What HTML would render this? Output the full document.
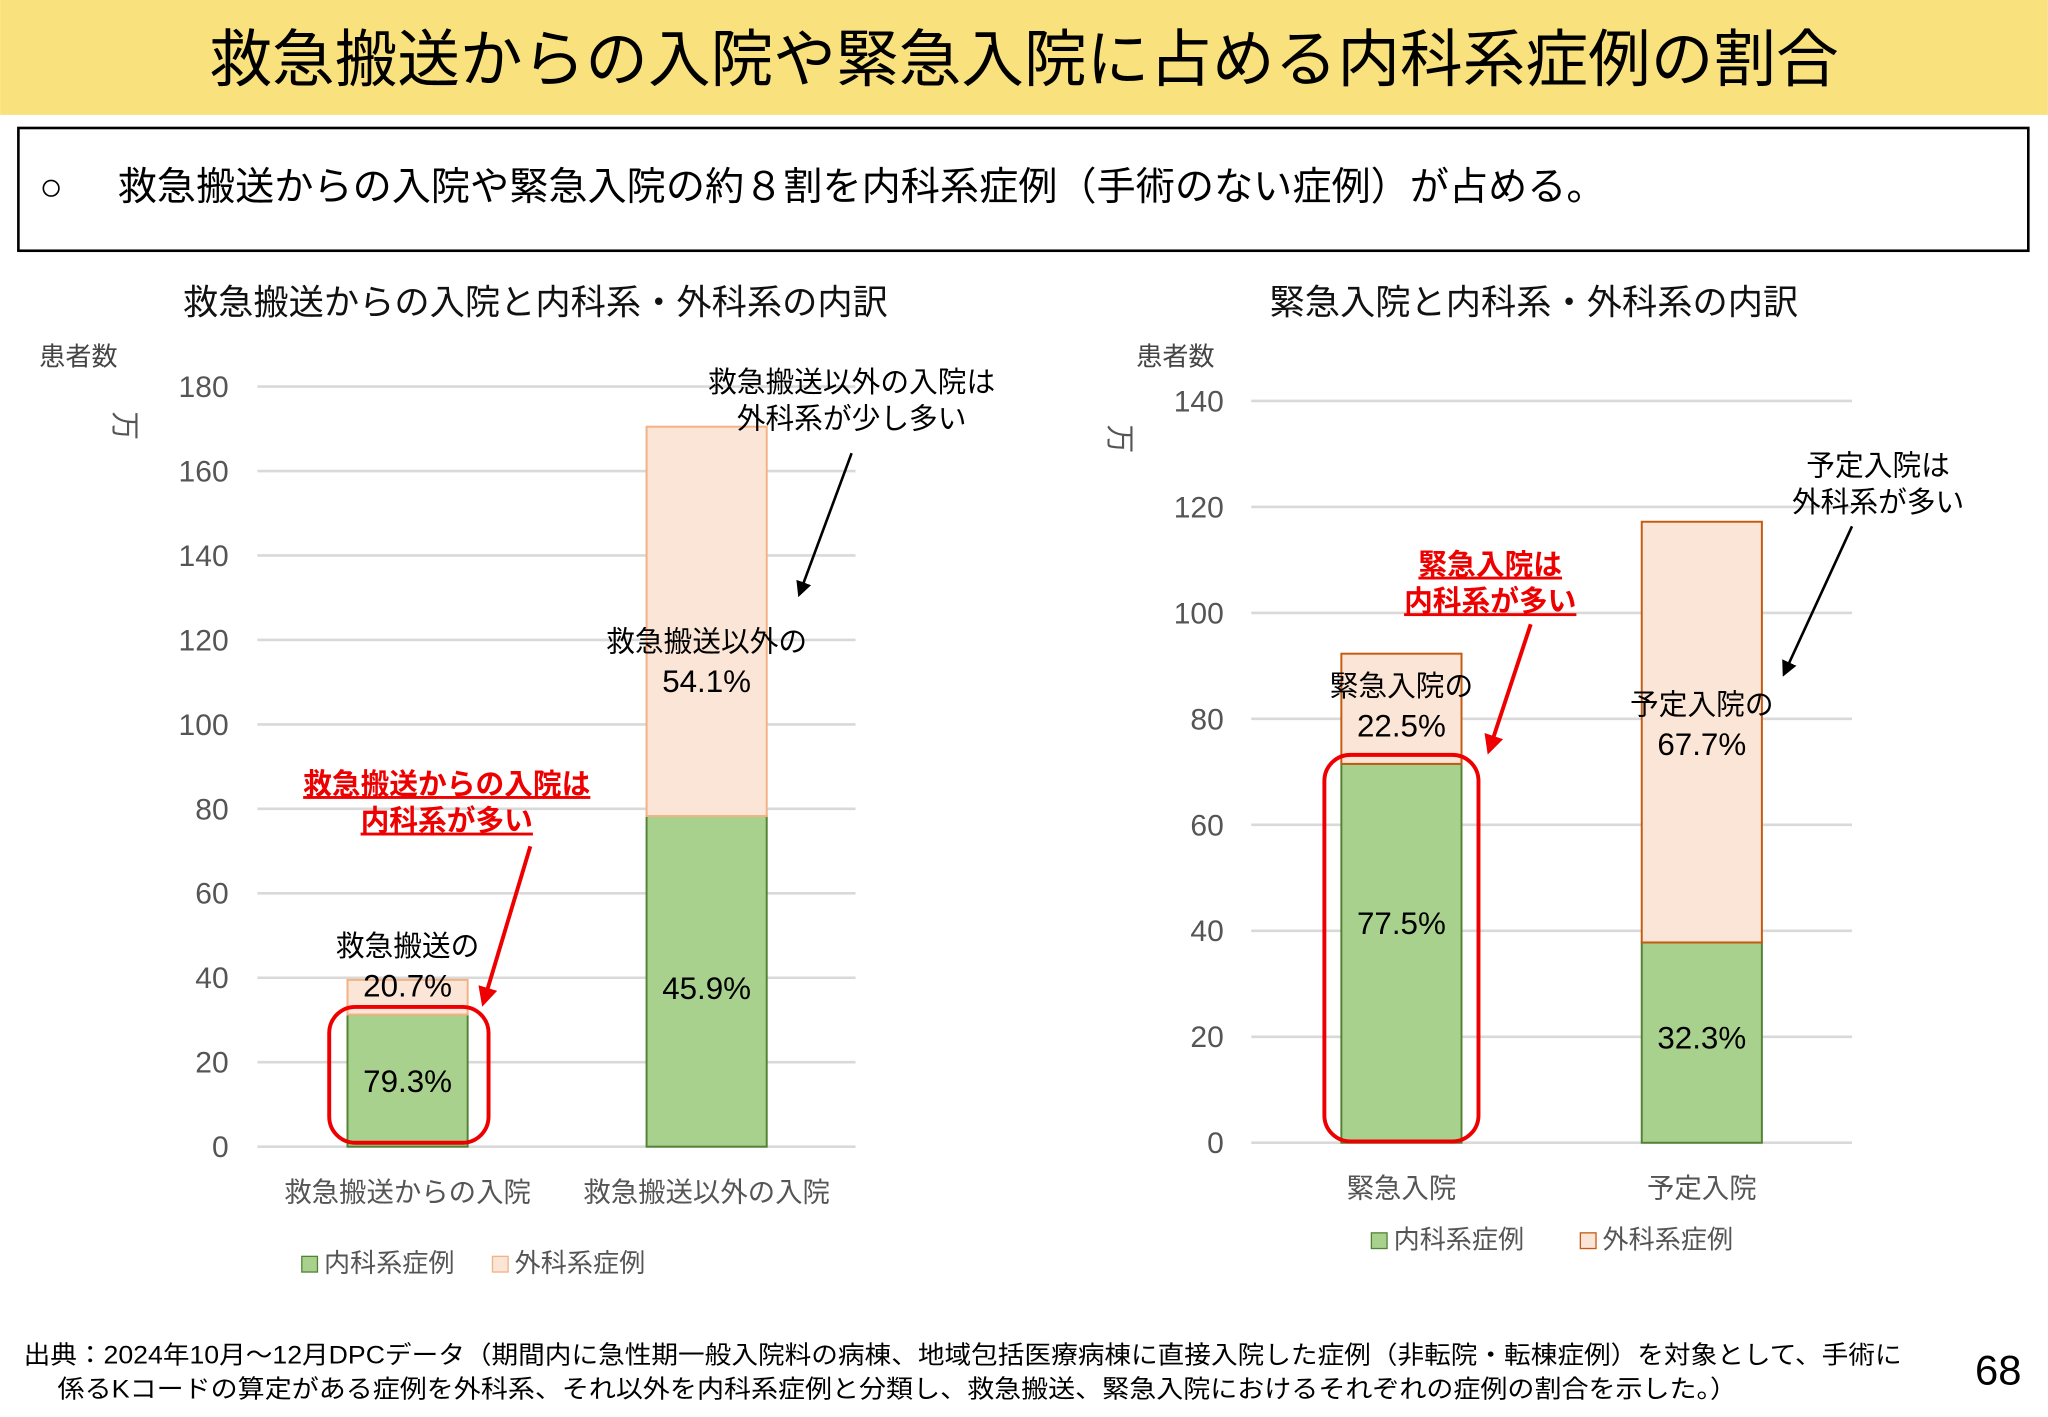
<!DOCTYPE html>
<html><head><meta charset="utf-8"><style>
html,body{margin:0;padding:0;background:#fff;}
svg{display:block;font-family:"Liberation Sans","Noto Sans CJK JP",sans-serif;}
</style></head><body>
<svg id="root" width="2048" height="1417" viewBox="0 0 1568 1085" xmlns="http://www.w3.org/2000/svg">
<defs>
<marker id="ah" viewBox="0 0 10 10" refX="8" refY="5" markerWidth="6" markerHeight="6" orient="auto"><path d="M0,0L10,5L0,10z" fill="#000"/></marker>
<marker id="ahr" viewBox="0 0 10 10" refX="8" refY="5" markerWidth="5" markerHeight="5" orient="auto"><path d="M0,0L10,5L0,10z" fill="#e00"/></marker>
</defs>
<rect x="0" y="0" width="1568" height="88" fill="#f9e27d"/>
<text x="784" y="62" font-size="48" text-anchor="middle" fill="#000">救急搬送からの入院や緊急入院に占める内科系症例の割合</text>
<rect x="14" y="98" width="1539" height="94" fill="#fff" stroke="#000" stroke-width="2"/>
<text x="30" y="153" font-size="30" fill="#000">○</text>
<text x="90" y="153" font-size="30" fill="#000">救急搬送からの入院や緊急入院の約８割を内科系症例（手術のない症例）が占める。</text>

<text x="140" y="241" font-size="27" fill="#111">救急搬送からの入院と内科系・外科系の内訳</text>
<text x="972" y="241" font-size="27" fill="#111">緊急入院と内科系・外科系の内訳</text>
<text x="30" y="280" font-size="20" fill="#444">患者数</text>
<text x="870" y="280" font-size="20" fill="#444">患者数</text>
<text transform="translate(88,315) rotate(90)" font-size="22" fill="#555">万</text>
<text transform="translate(850,325) rotate(90)" font-size="22" fill="#555">万</text>
<g id="charts"></g>

<text x="652" y="300" font-size="22" text-anchor="middle" fill="#000">救急搬送以外の入院は</text>
<text x="652" y="328" font-size="22" text-anchor="middle" fill="#000">外科系が少し多い</text>
<line x1="652" y1="347" x2="612" y2="455" stroke="#000" stroke-width="2" marker-end="url(#ah)"/>
<text x="1438" y="364" font-size="22" text-anchor="middle" fill="#000">予定入院は</text>
<text x="1438" y="392" font-size="22" text-anchor="middle" fill="#000">外科系が多い</text>
<line x1="1418" y1="403" x2="1366" y2="516" stroke="#000" stroke-width="2" marker-end="url(#ah)"/>
<text x="342" y="608" font-size="22" font-weight="bold" text-anchor="middle" fill="#e00" text-decoration="underline">救急搬送からの入院は</text>
<text x="342" y="636" font-size="22" font-weight="bold" text-anchor="middle" fill="#e00" text-decoration="underline">内科系が多い</text>
<line x1="406" y1="648" x2="370" y2="768" stroke="#e00" stroke-width="3" marker-end="url(#ahr)"/>
<text x="1141" y="440" font-size="22" font-weight="bold" text-anchor="middle" fill="#e00" text-decoration="underline">緊急入院は</text>
<text x="1141" y="468" font-size="22" font-weight="bold" text-anchor="middle" fill="#e00" text-decoration="underline">内科系が多い</text>
<line x1="1172" y1="478" x2="1140" y2="575" stroke="#e00" stroke-width="3" marker-end="url(#ahr)"/>
<rect x="252" y="771" width="122" height="104" rx="20" fill="none" stroke="#e00" stroke-width="3"/>
<rect x="1014" y="578" width="118" height="296" rx="20" fill="none" stroke="#e00" stroke-width="3"/>

<rect x="231" y="962" width="12" height="12" fill="#a9d18e" stroke="#548235"/>
<text x="248" y="974" font-size="20" fill="#555">内科系症例</text>
<rect x="377" y="962" width="12" height="12" fill="#fbe5d6" stroke="#f4b183"/>
<text x="394" y="974" font-size="20" fill="#555">外科系症例</text>
<rect x="1050" y="944" width="12" height="12" fill="#a9d18e" stroke="#548235"/>
<text x="1067" y="956" font-size="20" fill="#555">内科系症例</text>
<rect x="1210" y="944" width="12" height="12" fill="#fbe5d6" stroke="#c55a11"/>
<text x="1227" y="956" font-size="20" fill="#555">外科系症例</text>

<text x="18" y="1044" font-size="19" fill="#000" textLength="1438" lengthAdjust="spacingAndGlyphs">出典：2024年10月～12月DPCデータ（期間内に急性期一般入院料の病棟、地域包括医療病棟に直接入院した症例（非転院・転棟症例）を対象として、手術に</text>
<text x="44" y="1070" font-size="19" fill="#000" textLength="1286" lengthAdjust="spacingAndGlyphs">係るKコードの算定がある症例を外科系、それ以外を内科系症例と分類し、救急搬送、緊急入院におけるそれぞれの症例の割合を示した。）</text>
<text x="1530" y="1060" font-size="32" text-anchor="middle" fill="#000">68</text>
</svg>
<script>
const leftCategories = ["救急搬送からの入院", "救急搬送以外の入院"];
const leftMedical = [31.3, 78.3];
const leftSurgical = [8.2, 92.2];
const leftMedLabels = ["79.3%", "45.9%"];
const leftSurLabels = [["救急搬送の","20.7%"], ["救急搬送以外の","54.1%"]];
const leftTicks = [0,20,40,60,80,100,120,140,160,180];
const rightCategories = ["緊急入院", "予定入院"];
const rightMedical = [71.5, 37.8];
const rightSurgical = [20.8, 79.4];
const rightMedLabels = ["77.5%", "32.3%"];
const rightSurLabels = [["緊急入院の","22.5%"], ["予定入院の","67.7%"]];
const rightTicks = [0,20,40,60,80,100,120,140];

const NS = "http://www.w3.org/2000/svg";
const g = document.getElementById("charts");
function mk(tag, attrs, text){ const e=document.createElementNS(NS,tag); for(const k in attrs) e.setAttribute(k,attrs[k]); if(text!==undefined) e.textContent=text; g.appendChild(e); return e; }

function drawChart(cfg){
  const y = v => cfg.y0 - (v/cfg.max)*(cfg.y0-cfg.yTop);
  cfg.ticks.forEach(t=>{
    const l = mk("line",{x1:cfg.gx0,x2:cfg.gx1,y1:y(t),y2:y(t),stroke:"#d9d9d9","stroke-width":2});
    
    
    const tx = mk("text",{x:cfg.tickX,y:y(t)+8,"font-size":23,"text-anchor":"end",fill:"#555"},String(t));
    
    
  });
  cfg.cats.forEach((c,i)=>{
    const cx = cfg.centers[i], w = cfg.bw;
    const m = cfg.med[i], s = cfg.sur[i];
    const r1 = mk("rect",{x:cx-w/2,y:y(m),width:w,height:y(0)-y(m),fill:"#a9d18e",stroke:"#548235","stroke-width":1.5});
    
    
    const r2 = mk("rect",{x:cx-w/2,y:y(m+s),width:w,height:y(m)-y(m+s),fill:"#fbe5d6",stroke:cfg.surStroke,"stroke-width":1.5});
    
    
    const my = cfg.medLY ? cfg.medLY[i] : (y(0)+y(m))/2+10;
    const ml = mk("text",{x:cx,y:my,"font-size":24,"text-anchor":"middle",fill:"#000"},cfg.medL[i]);
    
    
    const sy = cfg.surLY[i];
    const sl1 = mk("text",{x:cx,y:sy,"font-size":22,"text-anchor":"middle",fill:"#000"},cfg.surL[i][0]);
    
    
    const sl2 = mk("text",{x:cx,y:sy+31,"font-size":24,"text-anchor":"middle",fill:"#000"},cfg.surL[i][1]);
    
    
    const cl = mk("text",{x:cx,y:cfg.y0+42,"font-size":21,"text-anchor":"middle",fill:"#555"},c);
    
    
  });
}
drawChart({id:"left",cats:leftCategories,med:leftMedical,sur:leftSurgical,medL:leftMedLabels,surL:leftSurLabels,
  ticks:leftTicks,max:180,y0:878,yTop:296,gx0:197,gx1:655,tickX:175,centers:[312,541],bw:92,surStroke:"#f4b183",surLY:[732,499],medLY:[836,765]});
drawChart({id:"right",cats:rightCategories,med:rightMedical,sur:rightSurgical,medL:rightMedLabels,surL:rightSurLabels,
  ticks:rightTicks,max:140,y0:875,yTop:307,gx0:958,gx1:1418,tickX:937,centers:[1073,1303],bw:92,surStroke:"#c55a11",surLY:[533,547],medLY:[715,803]});
</script>
</body></html>
